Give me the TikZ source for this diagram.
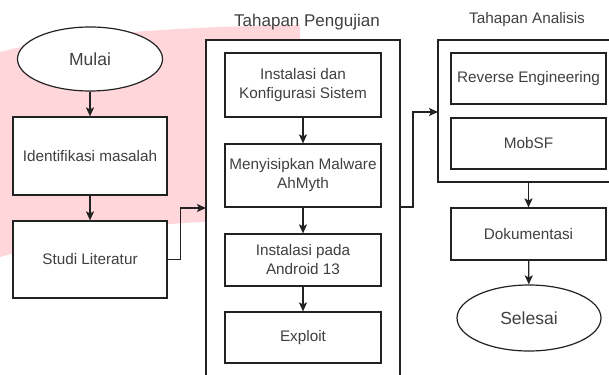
\documentclass[tikz,border=0pt]{standalone}
\usepackage{fontspec}
\setmainfont{Liberation Sans}
\usetikzlibrary{shapes.geometric,arrows.meta}
\definecolor{pinkbg}{RGB}{255,214,218}
\definecolor{linec}{RGB}{34,34,34}
\definecolor{textc}{RGB}{64,64,64}
\tikzset{
  box/.style={draw=linec, line width=1.2pt, fill=white, inner sep=0pt, align=center,
    text=textc, font=\fontsize{15.3}{19}\selectfont},
  frame/.style={draw=linec, line width=1.2pt, fill=white, inner sep=0pt},
  term/.style={ellipse, draw=linec, line width=1.2pt, fill=white, inner sep=0pt,
    text=textc, font=\fontsize{17.5}{21}\selectfont},
  conn/.style={draw=linec, line width=1.2pt, -{Stealth[length=9pt,width=8pt,inset=2pt]}},
  ttl/.style={text=textc, inner sep=0pt}
}
\begin{document}
\begin{tikzpicture}[x=1pt,y=-1pt]
\useasboundingbox (0,0) rectangle (609,374);
\clip (0,0) rectangle (609,374);
% pink background blob
\fill[pinkbg] (0,52) .. controls (70,34) and (170,27) .. (300,25) -- (300,221)
  -- (200,222) .. controls (120,226) and (60,240) .. (0,257) -- cycle;

% left column
\node[term, minimum width=145pt, minimum height=64pt] (mulai) at (90,59) {Mulai};
\node[box, minimum width=154pt, minimum height=78pt] (ident) at (90,156) {Identifikasi masalah};
\node[box, minimum width=154pt, minimum height=77pt] (studi) at (90,259.5) {Studi Literatur};

% Pengujian frame
\node[frame, minimum width=194pt, minimum height=360pt] (peng) at (303,220) {};
\node[ttl, font=\fontsize{17}{20}\selectfont] (tpeng) at (307,22) {Tahapan Pengujian};
\node[box, minimum width=156pt, minimum height=64pt] (p1) at (303,85) {Instalasi dan\\Konfigurasi Sistem};
\node[box, minimum width=156pt, minimum height=63pt] (p2) at (303,175.5) {Menyisipkan Malware\\AhMyth};
\node[box, minimum width=156pt, minimum height=52pt] (p3) at (303,260) {Instalasi pada\\Android 13};
\node[box, minimum width=156pt, minimum height=51pt] (p4) at (303,337.5) {Exploit};

% Analisis frame
\node[frame, minimum width=180pt, minimum height=142pt] (ana) at (528,111) {};
\node[ttl, font=\fontsize{15.3}{18}\selectfont] (tana) at (527,20) {Tahapan Analisis};
\node[box, minimum width=155pt, minimum height=51pt] (a1) at (528.5,78.5) {Reverse Engineering};
\node[box, minimum width=155pt, minimum height=51pt] (a2) at (528.5,143.5) {MobSF};
\node[box, minimum width=155pt, minimum height=52pt] (doc) at (528.5,234) {Dokumentasi};
\node[term, minimum width=144pt, minimum height=66pt] (selesai) at (529,318) {Selesai};

% connectors
\coordinate (pin) at (206,208);
\coordinate (pout) at (400,207);
\coordinate (ain) at (438,112);
\draw[conn] (mulai) -- (ident);
\draw[conn] (ident) -- (studi);
\draw[conn] (studi.east) -- ++(13,0) |- (pin);
\draw[conn] (p1) -- (p2);
\draw[conn] (p2) -- (p3);
\draw[conn] (p3) -- (p4);
\draw[conn] (pout) -- ++(13,0) |- (ain);
\draw[conn] (ana.south -| doc.north) -- (doc.north);
\draw[conn] (doc) -- (selesai);
\end{tikzpicture}
\end{document}
